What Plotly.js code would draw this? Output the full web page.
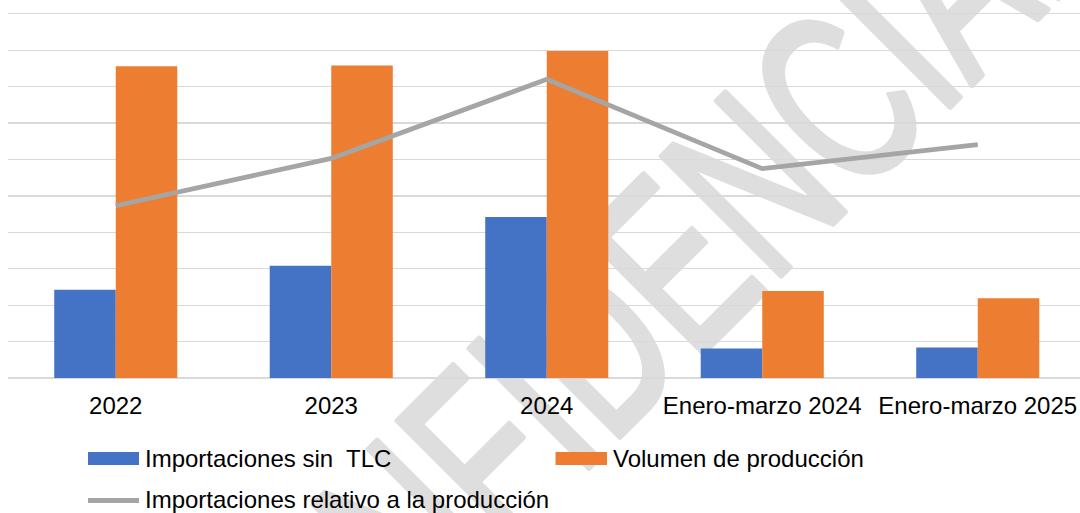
<!DOCTYPE html>
<html>
<head>
<meta charset="utf-8">
<script src="https://cdn.plot.ly/plotly-3.0.1.min.js"></script>
<style>
  html, body { margin: 0; padding: 0; background: #ffffff; }
  #chart { width: 1080px; height: 513px; }
</style>
</head>
<body>
<div id="chart"></div>
<script>
// ---- Data (arbitrary units, no axis scale shown) ----
const categories = ['2022', '2023', '2024', 'Enero-marzo 2024', 'Enero-marzo 2025'];
const importacionesSinTLC = [2.42, 3.08, 4.42, 0.81, 0.84];
const volumenProduccion = [8.56, 8.58, 8.98, 2.39, 2.19];
const relativoProduccion = [4.73, 6.03, 8.20, 5.75, 6.41];
const seriesNames = ['Importaciones sin  TLC', 'Volumen de producción', 'Importaciones relativo a la producción'];
const watermarkText = 'CONFIDENCIAL';

// ---- Layout geometry ----
const W = 1080, H = 513;
const ML = 8, MR = 0, MT = 12, MB = 135;
const PW = W - ML - MR, PH = H - MT - MB;
const px2x = px => (px - ML) / PW;
const py2y = py => (H - MB - py) / PH;

const BLUE = '#4472C4', ORANGE = '#ED7D31', GRAY = '#A5A5A5';
const FONT = 'Liberation Sans, Arial, sans-serif';

const traces = [
  { type: 'bar', name: seriesNames[0], x: categories, y: importacionesSinTLC,
    marker: { color: BLUE, line: { width: 0 } }, hoverinfo: 'x+y' },
  { type: 'bar', name: seriesNames[1], x: categories, y: volumenProduccion,
    marker: { color: ORANGE, line: { width: 0 } }, hoverinfo: 'x+y' },
  { type: 'scatter', mode: 'lines', name: seriesNames[2], x: categories, y: relativoProduccion,
    line: { color: GRAY, width: 4.8 }, hoverinfo: 'x+y' }
];

// watermark as an SVG image placed beneath the grid
const wmSvg =
  '<svg xmlns="http://www.w3.org/2000/svg" width="' + W + '" height="' + H + '" viewBox="0 0 ' + W + ' ' + H + '">' +
  '<g transform="translate(620,315) rotate(-45) scale(0.67,1)">' +
  '<text x="0" y="86" text-anchor="middle" font-family="Liberation Sans, Arial, sans-serif" font-size="245" ' +
  'fill="#dedede" stroke="#dedede" stroke-width="6" stroke-linejoin="round">' +
  watermarkText + '</text></g></svg>';

const shapes = [
  { type: 'rect', xref: 'paper', yref: 'paper', x0: px2x(88), x1: px2x(139), y0: py2y(465), y1: py2y(452),
    fillcolor: BLUE, line: { width: 0 } },
  { type: 'rect', xref: 'paper', yref: 'paper', x0: px2x(555.5), x1: px2x(607), y0: py2y(465), y1: py2y(452),
    fillcolor: ORANGE, line: { width: 0 } },
  { type: 'line', xref: 'paper', yref: 'paper', x0: px2x(88), x1: px2x(139), y0: py2y(500.5), y1: py2y(500.5),
    line: { color: GRAY, width: 4.8 } }
];

const annotations = [
  { xref: 'paper', yref: 'paper', x: px2x(143), y: py2y(459), xanchor: 'left', yanchor: 'middle',
    text: seriesNames[0], showarrow: false, font: { family: FONT, size: 24, color: '#000000' } },
  { xref: 'paper', yref: 'paper', x: px2x(611), y: py2y(459), xanchor: 'left', yanchor: 'middle',
    text: seriesNames[1], showarrow: false, font: { family: FONT, size: 24, color: '#000000' } },
  { xref: 'paper', yref: 'paper', x: px2x(143), y: py2y(499), xanchor: 'left', yanchor: 'middle',
    text: seriesNames[2], showarrow: false, font: { family: FONT, size: 24, color: '#000000' } }
];

const layout = {
  width: W, height: H,
  margin: { l: ML, r: MR, t: MT, b: MB, pad: 0 },
  paper_bgcolor: '#ffffff', plot_bgcolor: 'rgba(0,0,0,0)',
  showlegend: false,
  barmode: 'group', bargap: 0.429, bargroupgap: 0,
  font: { family: FONT, size: 24, color: '#000000' },
  xaxis: {
    type: 'category', range: [-0.5, -0.5 + PW / 215.5],
    showgrid: false, zeroline: false, showline: false, ticks: '',
    tickfont: { family: FONT, size: 24, color: '#000000' },
    ticklabelstandoff: 11, fixedrange: true
  },
  yaxis: {
    range: [0, 10.05], dtick: 1, tick0: 0,
    showgrid: true, gridcolor: '#d9d9d9', gridwidth: 1.3,
    zeroline: true, zerolinecolor: '#d9d9d9', zerolinewidth: 1.3,
    showticklabels: false, ticks: '', showline: false, fixedrange: true
  },
  images: [{
    source: 'data:image/svg+xml;charset=utf-8,' + encodeURIComponent(wmSvg),
    xref: 'paper', yref: 'paper', x: px2x(0), y: py2y(0),
    sizex: W / PW, sizey: H / PH, sizing: 'stretch',
    xanchor: 'left', yanchor: 'top', layer: 'below'
  }],
  shapes: shapes,
  annotations: annotations
};

Plotly.newPlot('chart', traces, layout, { displayModeBar: false, staticPlot: true });
</script>
</body>
</html>
